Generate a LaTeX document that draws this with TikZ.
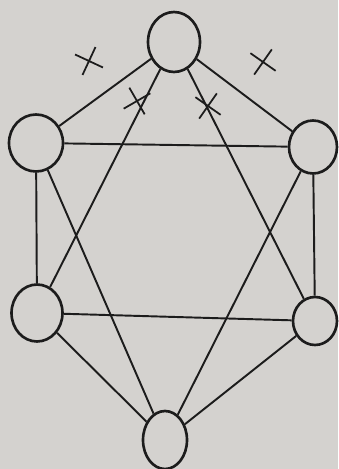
\documentclass[tikz,border=0pt]{standalone}
\usepackage{tikz}
\usetikzlibrary{shapes.geometric,shapes.misc}
\definecolor{paper}{RGB}{212,210,207}
\definecolor{ink}{RGB}{28,28,28}

\begin{document}
\begin{tikzpicture}[
  x=0.02cm,y=-0.02cm,
  vert/.style={draw=ink,ellipse,line width=1.5pt,inner sep=0pt},
  edge/.style={draw=ink,line width=1.1pt},
  crossmark/.style={cross out,draw=ink,line width=1pt,minimum size=4mm,inner sep=0pt}
]
\fill[paper] (0,0) rectangle (338,469);
\useasboundingbox (0,0) rectangle (338,469);
% vertices
\node[vert,minimum width=10.4mm,minimum height=12mm] (top) at (174,42) {};
\node[vert,minimum width=10.8mm,minimum height=11.4mm] (ul) at (36,143) {};
\node[vert,minimum width=9.6mm,minimum height=10.6mm] (ur) at (313,147) {};
\node[vert,minimum width=10.2mm,minimum height=11.4mm] (ll) at (37,313) {};
\node[vert,minimum width=8.8mm,minimum height=9.6mm] (lr) at (315,321) {};
\node[vert,minimum width=8.8mm,minimum height=11.6mm] (bot) at (165,440) {};
% outer ring
\draw[edge] (top) -- (ul);
\draw[edge] (top) -- (ur);
\draw[edge] (ul) -- (ll);
\draw[edge] (ur) -- (lr);
\draw[edge] (ll) -- (bot);
\draw[edge] (lr) -- (bot);
% the two triangles
\draw[edge] (top) -- (ll);
\draw[edge] (top) -- (lr);
\draw[edge] (ll) -- (lr);
\draw[edge] (bot) -- (ul);
\draw[edge] (bot) -- (ur);
\draw[edge] (ul) -- (ur);
% crossed edges
\node[crossmark,rotate=20] (c1) at (89,61) {};
\node[crossmark,rotate=10] (c2) at (263,62) {};
\node[crossmark,rotate=-15] (c3) at (137,101) {};
\node[crossmark,rotate=10] (c4) at (208,106) {};
\end{tikzpicture}
\end{document}
